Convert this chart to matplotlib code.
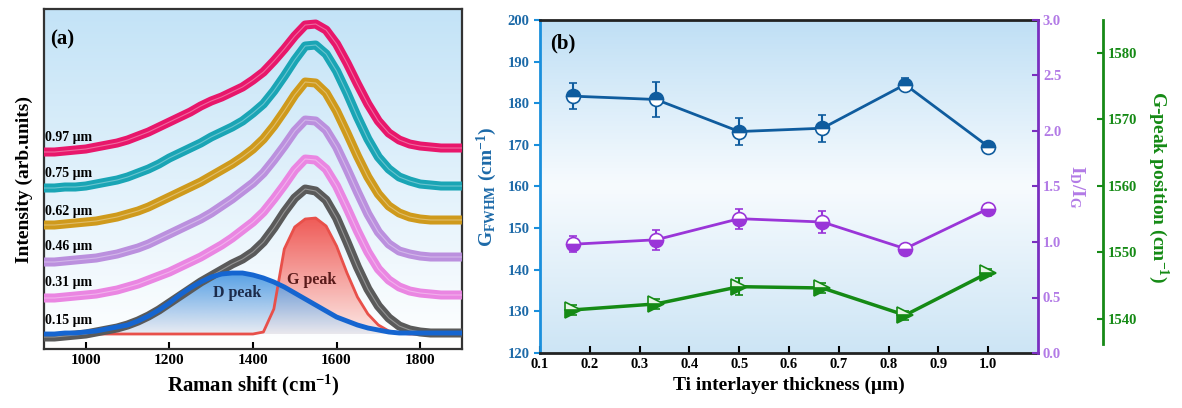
import numpy as np
import matplotlib
matplotlib.use("Agg")
import matplotlib.pyplot as plt
from matplotlib.colors import to_rgba

plt.rcParams['font.family'] = ['Liberation Serif', 'DejaVu Serif']
plt.rcParams['font.weight'] = 'bold'
plt.rcParams['mathtext.default'] = 'regular'

# ---- panel (a): Raman spectra (stacked, arb. units) ----
shift = [900, 925, 950, 975, 1000, 1025, 1050, 1075, 1100, 1125, 1150, 1175, 1200, 1225,
         1250, 1275, 1300, 1325, 1350, 1375, 1400, 1425, 1450, 1475, 1500, 1525, 1550,
         1575, 1600, 1625, 1650, 1675, 1700, 1725, 1750, 1775, 1800, 1825, 1850, 1875, 1900]
spec_097 = [197, 197, 198, 199, 200, 202, 204, 206, 209, 213, 217, 222, 227, 232,
            237, 243, 248, 252, 257, 262, 269, 277, 288, 300, 313, 324, 325,
            319, 305, 286, 265, 245, 228, 216, 209, 205, 203, 202, 201, 201, 201]
spec_075 = [161, 161, 162, 162, 163, 165, 167, 169, 172, 176, 180, 185, 191, 196,
            201, 206, 212, 217, 222, 228, 236, 245, 258, 273, 289, 303, 304,
            295, 278, 256, 232, 210, 192, 180, 172, 168, 165, 164, 163, 163, 163]
spec_062 = [124, 124, 125, 126, 127, 128, 130, 132, 135, 138, 142, 147, 152, 157,
            162, 167, 173, 179, 185, 192, 200, 210, 223, 238, 254, 267, 266,
            256, 238, 216, 193, 172, 155, 143, 136, 132, 130, 129, 129, 129, 129]
spec_046 = [87, 87, 88, 89, 90, 91, 93, 95, 98, 101, 105, 110, 115, 120,
            125, 130, 136, 143, 150, 158, 166, 176, 189, 203, 218, 229, 228,
            219, 202, 180, 157, 135, 117, 105, 98, 95, 93, 92, 92, 92, 92]
spec_031 = [51, 51, 52, 53, 54, 55, 57, 59, 62, 65, 69, 73, 77, 82,
            87, 92, 98, 104, 111, 119, 127, 137, 150, 164, 179, 190, 189,
            180, 163, 141, 118, 97, 80, 69, 62, 58, 56, 55, 54, 54, 54]
spec_015 = [12, 12, 13, 14, 15, 17, 19, 21, 24, 28, 33, 39, 46, 53,
            60, 67, 73, 79, 85, 90, 97, 107, 121, 137, 151, 160, 158,
            149, 131, 107, 82, 60, 43, 31, 23, 19, 17, 16, 16, 16, 16]
d_peak = [15, 15, 16, 16, 17, 18, 20, 22, 24, 28, 33, 39, 46, 54,
          61, 67, 72, 75, 76, 76, 74, 71, 67, 62, 56, 50, 44,
          38, 32, 28, 24, 21, 19, 17, 16, 16, 16, 16, 16, 16, 16]
g_peak = [15, 15, 15, 15, 15, 15, 15, 15, 15, 15, 15, 15, 15, 15,
          15, 15, 15, 15, 15, 15, 15, 17, 40, 100, 122, 130, 131,
          123, 103, 76, 52, 35, 24, 18, 16, 15, 15, 15, 15, 15, 15]
spectra = [spec_097, spec_075, spec_062, spec_046, spec_031, spec_015]
spec_labels = ['0.97 μm', '0.75 μm', '0.62 μm', '0.46 μm', '0.31 μm', '0.15 μm']
spec_label_y = [212, 176, 138, 103, 67, 29]
spec_colors = ['#e8176b', '#1aa5b5', '#cf9a1c', '#bb90de', '#ea86e2', '#5a5a5a']

# ---- panel (b) ----
thick = [0.167, 0.333, 0.5, 0.667, 0.833, 1.0]
fwhm = [181.7, 180.9, 173.2, 174.0, 184.5, 169.6]
fwhm_err = [3.1, 4.2, 3.2, 3.2, 1.5, 1.0]
idig = [0.98, 1.02, 1.21, 1.18, 0.94, 1.30]
idig_err = [0.07, 0.09, 0.09, 0.10, 0.04, 0.04]
gpos = [1541.3, 1542.2, 1544.8, 1544.6, 1540.5, 1546.9]
gpos_err = [0.8, 0.8, 1.3, 0.8, 0.7, 0.5]


def vgrad(ax, top, bottom, mid=None, z=0):
    n = 256
    t = np.linspace(0, 1, n)[:, None]
    c1, c2 = np.array(to_rgba(top)), np.array(to_rgba(bottom))
    if mid is None:
        img = c1 + (c2 - c1) * t
    else:
        cm = np.array(to_rgba(mid))
        img = np.where(t < 0.5, c1 + (cm - c1) * (t / 0.5), cm + (c2 - cm) * ((t - 0.5) / 0.5))
    ax.imshow(img.reshape(n, 1, 4), extent=[0, 1, 0, 1], transform=ax.transAxes,
              aspect='auto', zorder=z)


def grad_fill(ax, x, y, base, ctop, cbot, alpha, z):
    poly = ax.fill_between(x, y, base, facecolor='none', edgecolor='none')
    n = 256
    t = np.linspace(0, 1, n)[:, None]
    c1, c2 = np.array(to_rgba(ctop, alpha)), np.array(to_rgba(cbot, alpha))
    img = (c1 + (c2 - c1) * t).reshape(n, 1, 4)
    im = ax.imshow(img, extent=[min(x), max(x), base, max(y)], aspect='auto', zorder=z)
    im.set_clip_path(poly.get_paths()[0], ax.transData)


fig = plt.figure(figsize=(11.82, 4.08), dpi=100)

# ================= (a) =================
ax1 = fig.add_axes([0.0372, 0.1446, 0.3536, 0.8333])
vgrad(ax1, '#c3e3f7', '#ffffff')
grad_fill(ax1, shift, g_peak, 15, '#f04a45', '#fde6e2', 0.9, 1)
grad_fill(ax1, shift, d_peak, 15, '#2f8ae0', '#e6e8f0', 0.8, 1.5)
ax1.plot(shift, g_peak, color='#e8504a', lw=2, zorder=2)
for s, c in zip(spectra, spec_colors):
    ax1.plot(shift, s, color=c, lw=6.5, solid_capstyle='butt', zorder=3)
    ax1.plot(shift, s, color='white', lw=0.8, alpha=0.35, zorder=3.1)
ax1.plot(shift, d_peak, color='#1565d0', lw=3.5, zorder=4)
for lab, yy in zip(spec_labels, spec_label_y):
    ax1.text(902, yy, lab, fontsize=10, fontweight='bold', va='center', ha='left', zorder=5)
ax1.text(1362, 56, 'D peak', fontsize=11.5, fontweight='bold', color='#1c2b4a', ha='center', va='center', zorder=5)
ax1.text(1541, 69, 'G peak', fontsize=11.5, fontweight='bold', color='#5a1b1b', ha='center', va='center', zorder=5)
ax1.text(0.015, 0.91, '(a)', transform=ax1.transAxes, fontsize=15, fontweight='bold', va='center')
ax1.set_xlim(900, 1900)
ax1.set_ylim(0, 340)
ax1.set_yticks([])
ax1.set_xticks([1000, 1200, 1400, 1600, 1800])
ax1.tick_params(axis='x', direction='in', length=5, width=1.5, labelsize=11)
for sp in ax1.spines.values():
    sp.set_linewidth(1.6)
    sp.set_color('#333333')
ax1.set_xlabel('Raman shift (cm$^{-1}$)', fontsize=15, fontweight='bold', labelpad=4)
ax1.set_ylabel('Intensity (arb.units)', fontsize=14, fontweight='bold', labelpad=8)

# ================= (b) =================
blue, blue_sp, blue_lab = '#0f5c9e', '#1a8fdc', '#1d6aa8'
purple, purple_sp, purple_lab = '#9a35d8', '#7a2fc0', '#b27ae6'
green, green_sp = '#158a15', '#178a17'

ax2 = fig.add_axes([0.4569, 0.1348, 0.4213, 0.8162])
vgrad(ax2, '#bfdff5', '#cde5f5', mid='#f7fbfe')
ax3 = ax2.twinx()
ax4 = ax2.twinx()
ax4.spines['right'].set_position(('axes', 1.1305))

ax2.errorbar(thick, fwhm, yerr=fwhm_err, color=blue, lw=2, capsize=3, elinewidth=1.5,
             marker='o', ms=10, fillstyle='top', mfc=blue, mfcalt='white', mec=blue, mew=1.2, zorder=3)
ax3.errorbar(thick, idig, yerr=idig_err, color=purple, lw=2, capsize=3, elinewidth=1.5,
             marker='o', ms=10, fillstyle='bottom', mfc=purple, mfcalt='white', mec=purple, mew=1.2)
ax4.errorbar(thick, gpos, yerr=gpos_err, color=green, lw=2.5, capsize=3, elinewidth=1.5,
             marker='>', ms=11, fillstyle='bottom', mfc=green, mfcalt='#e8f5e8', mec=green, mew=1.2)

ax2.set_xlim(0.1, 1.1)
ax2.set_xticks([0.1, 0.2, 0.3, 0.4, 0.5, 0.6, 0.7, 0.8, 0.9, 1.0])
ax2.set_ylim(120, 200)
ax2.set_yticks(range(120, 201, 10))
ax3.set_ylim(0, 3.0)
ax3.set_yticks([0.0, 0.5, 1.0, 1.5, 2.0, 2.5, 3.0])
ax4.set_ylim(1534.8, 1585)
ax4.set_yticks([1540, 1550, 1560, 1570, 1580])

ax2.tick_params(axis='x', direction='in', length=5, width=1.5, labelsize=10.5)
ax2.tick_params(axis='y', direction='out', length=4, width=1.5, color=blue_sp, labelcolor=blue_lab, labelsize=10.5)
ax3.tick_params(axis='y', direction='in', length=4, width=1.5, color=purple_sp, labelcolor=purple_lab, labelsize=10.5)
ax4.tick_params(axis='y', direction='in', length=4, width=1.5, color=green_sp, labelcolor=green, labelsize=10.5)

for sp in ['top', 'bottom']:
    ax2.spines[sp].set_linewidth(2)
    ax2.spines[sp].set_color('#222222')
ax2.spines['left'].set_color(blue_sp)
ax2.spines['left'].set_linewidth(2)
ax2.spines['right'].set_visible(False)
for sp in ['top', 'bottom', 'left']:
    ax3.spines[sp].set_visible(False)
    ax4.spines[sp].set_visible(False)
ax3.spines['right'].set_color(purple_sp)
ax3.spines['right'].set_linewidth(2)
ax4.spines['right'].set_color(green_sp)
ax4.spines['right'].set_linewidth(2)
ax4.spines['right'].set_bounds(1536.2, 1585)

ax2.text(0.02, 0.93, '(b)', transform=ax2.transAxes, fontsize=15, fontweight='bold', va='center')
ax2.set_xlabel('Ti interlayer thickness (μm)', fontsize=14, fontweight='bold', labelpad=4)
ax2.set_ylabel('G$_{FWHM}$ (cm$^{-1}$)', fontsize=14, fontweight='bold', color=blue_lab, labelpad=6)
ax3.set_ylabel('I$_D$/I$_G$', fontsize=14, fontweight='bold', color=purple_lab, rotation=270, labelpad=18)
ax4.set_ylabel('G-peak position (cm$^{-1}$)', fontsize=14, fontweight='bold', color=green, rotation=270, labelpad=24)

fig.savefig('out.png', dpi=100)
